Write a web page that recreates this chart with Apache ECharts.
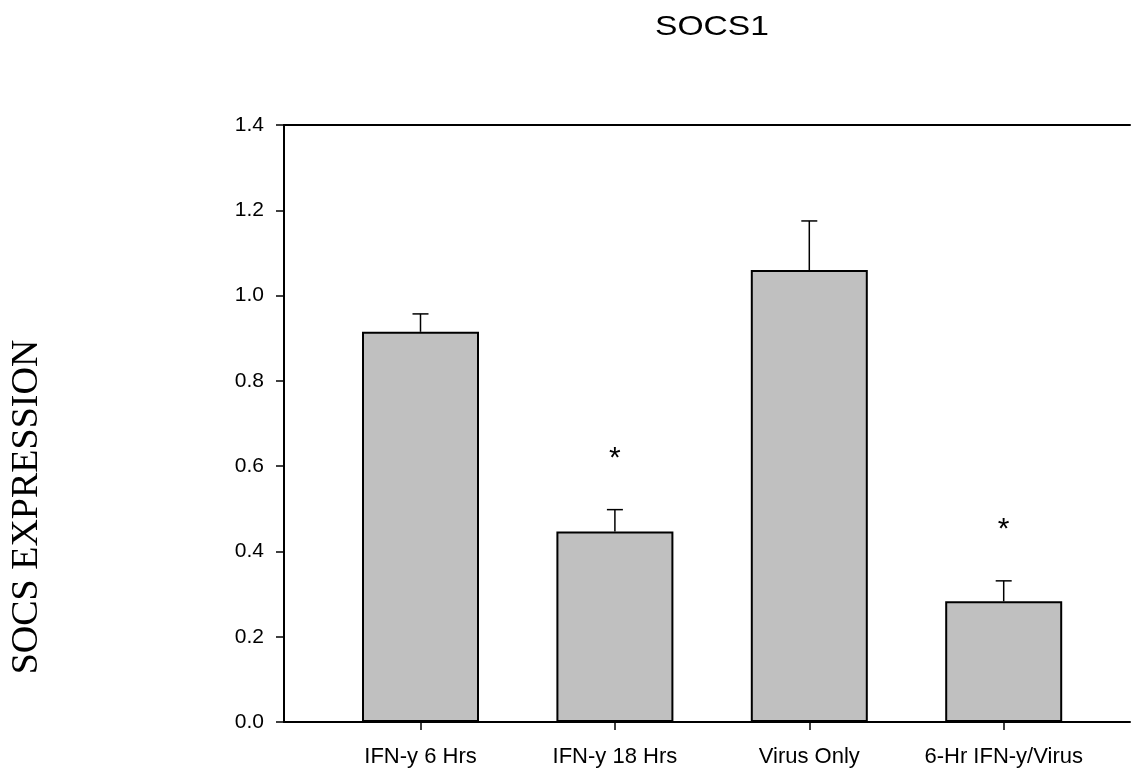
<!DOCTYPE html>
<html>
<head>
<meta charset="utf-8">
<script src="https://cdn.jsdelivr.net/npm/echarts@6/dist/echarts.min.js"></script>
<style>
html,body{margin:0;padding:0;background:#fff;}
#chart{width:1131px;height:773px;}
</style>
</head>
<body>
<div id="chart"></div>
<script>
// ---- data ----
const chartTitle = 'SOCS1';
const yAxisTitle = 'SOCS EXPRESSION';
const categories = ['IFN-y 6 Hrs', 'IFN-y 18 Hrs', 'Virus Only', '6-Hr IFN-y/Virus'];
const means = [0.915, 0.447, 1.060, 0.283];
const errors = [0.042, 0.051, 0.115, 0.048];
const marks = ['', '*', '', '*'];
const markLevels = [null, 0.63, null, 0.462];
const yMin = 0, yMax = 1.4, yStep = 0.2;

const sans = '"Liberation Sans", Arial, sans-serif';
const serif = '"Liberation Serif", "Times New Roman", serif';

const chart = echarts.init(document.getElementById('chart'), null, {renderer: 'canvas'});

const errData = categories.map((c, i) => [i, means[i], errors[i]]);
const markData = categories.map((c, i) => [i, markLevels[i], marks[i]]).filter(d => d[1] !== null && d[2]);

const option = {
  backgroundColor: '#ffffff',
  animation: false,
  graphic: [
    {
      type: 'text',
      left: 655, top: 13,
      scaleX: 1.2,
      style: {text: chartTitle, font: '28px ' + sans, fill: '#000'}
    },
    {
      type: 'text',
      x: 8, y: 507,
      rotation: Math.PI / 2,
      style: {text: yAxisTitle, font: '38px ' + serif, fill: '#000', align: 'center', verticalAlign: 'top'}
    }
  ],
  grid: [
    {left: 284, right: 1, top: 125, bottom: 51},
    {left: 323.3, right: 30.1, top: 125, bottom: 51}
  ],
  xAxis: [
    {
      gridIndex: 0, type: 'value', min: 0, max: 1, position: 'bottom',
      axisLine: {show: true, lineStyle: {color: '#000', width: 2}},
      axisTick: {show: false}, axisLabel: {show: false}, splitLine: {show: false}
    },
    {
      gridIndex: 0, type: 'value', min: 0, max: 1, position: 'top',
      axisLine: {show: true, lineStyle: {color: '#000', width: 2}},
      axisTick: {show: false}, axisLabel: {show: false}, splitLine: {show: false}
    },
    {
      gridIndex: 1, type: 'category', data: categories, position: 'bottom',
      axisLine: {show: false},
      axisTick: {show: true, alignWithLabel: true, length: 8, lineStyle: {color: '#000', width: 1.5}},
      axisLabel: {color: '#000', fontFamily: sans, fontSize: 22, margin: 24, interval: 0},
      splitLine: {show: false}
    }
  ],
  yAxis: [
    {
      gridIndex: 0, type: 'value', min: yMin, max: yMax, interval: yStep,
      axisLine: {show: true, lineStyle: {color: '#000', width: 2}},
      axisTick: {show: true, length: 8, lineStyle: {color: '#000', width: 1.5}},
      axisLabel: {color: '#000', fontFamily: sans, fontSize: 21, margin: 20, formatter: v => v.toFixed(1)},
      splitLine: {show: false}
    },
    {
      gridIndex: 1, type: 'value', min: yMin, max: yMax, interval: yStep, show: false,
      splitLine: {show: false}
    }
  ],
  series: [
    {
      type: 'bar', xAxisIndex: 2, yAxisIndex: 1,
      data: means, barWidth: 117,
      itemStyle: {color: '#c0c0c0', borderColor: '#000', borderWidth: 2},
      silent: true, z: 2
    },
    {
      type: 'custom', xAxisIndex: 2, yAxisIndex: 1, data: errData, z: 3, silent: true,
      renderItem: (params, api) => {
        const i = api.value(0), m = api.value(1), e = api.value(2);
        const base = api.coord([i, m]);
        const top = api.coord([i, m + e]);
        const hw = 8;
        const st = {stroke: '#000', lineWidth: 1.5};
        return {
          type: 'group',
          children: [
            {type: 'line', shape: {x1: base[0], y1: base[1], x2: top[0], y2: top[1]}, style: st},
            {type: 'line', shape: {x1: top[0] - hw, y1: top[1], x2: top[0] + hw, y2: top[1]}, style: st}
          ]
        };
      }
    },
    {
      type: 'custom', xAxisIndex: 2, yAxisIndex: 1, data: markData, z: 3, silent: true,
      renderItem: (params, api) => {
        const p = api.coord([api.value(0), api.value(1)]);
        return {
          type: 'text', x: p[0], y: p[1] + 5,
          style: {text: markData[params.dataIndex][2], font: '30px ' + sans, fill: '#000', align: 'center', verticalAlign: 'middle'}
        };
      }
    }
  ]
};
chart.setOption(option);
</script>
</body>
</html>
